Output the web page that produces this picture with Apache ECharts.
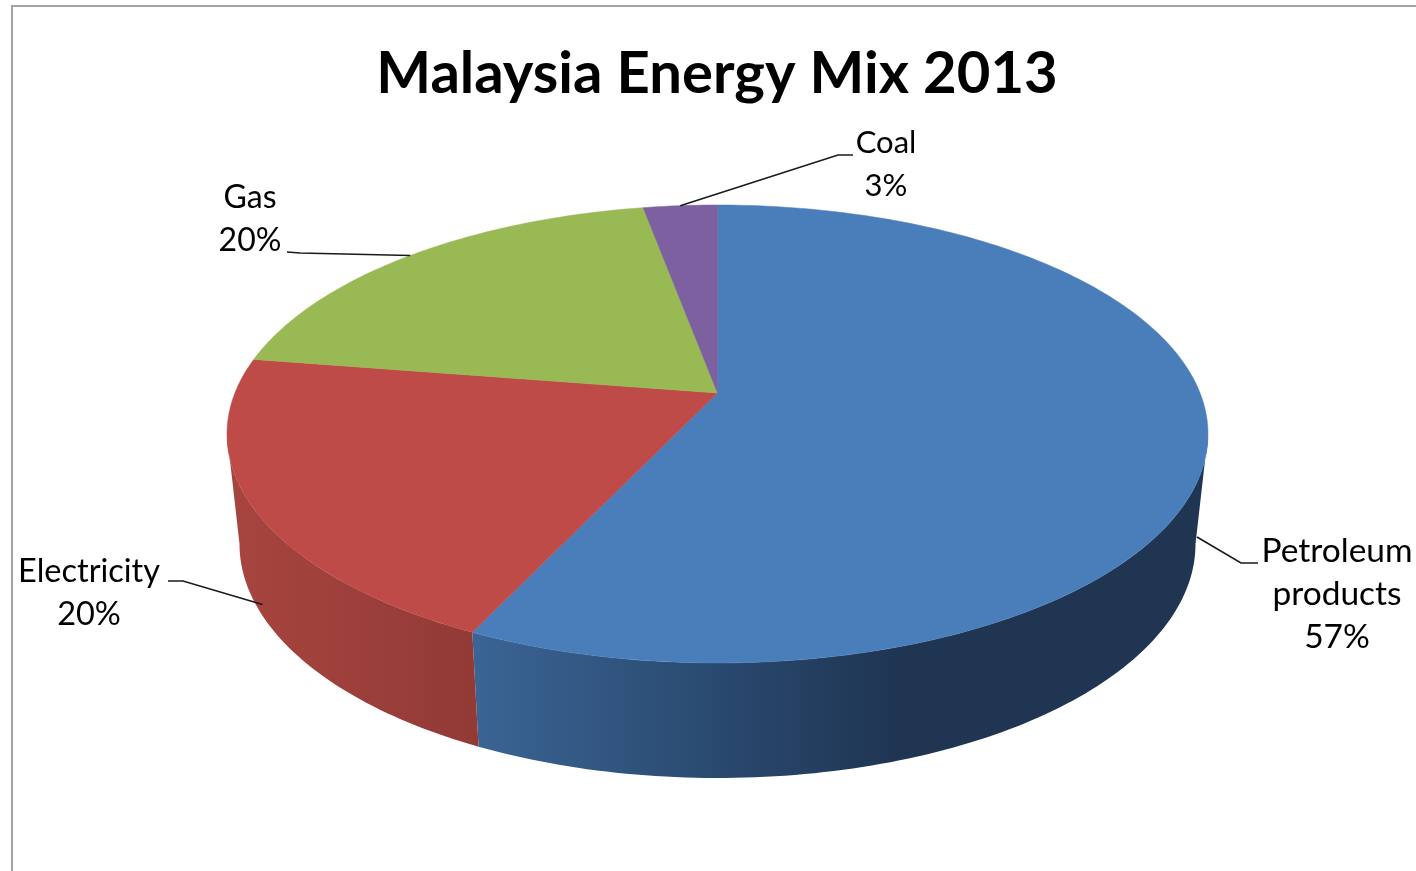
<!DOCTYPE html>
<html>
<head>
<meta charset="utf-8">
<style>html,body{margin:0;padding:0;background:#fff}#c{width:1416px;height:871px}</style>
<script src="https://cdn.jsdelivr.net/npm/echarts@6/dist/echarts.min.js"></script>
</head>
<body>
<div id="c"></div>
<script>
// Data
const titleText = 'Malaysia Energy Mix 2013';
const categories = ['Petroleum\nproducts', 'Electricity', 'Gas', 'Coal'];
const values = [57, 20.49, 19.61, 2.9];

// Styles
const topColors = ['#4a7ebb', '#be4b48', '#98b954', '#7d60a0'];
const wallStops = [
  [[0, '#3a6494'], [0.55, '#2a4a70'], [1, '#1f3552']],
  [[0, '#a6443f'], [1, '#923a36']],
  null, null
];
const wallGradX = [[478, 900], [245, 478], null, null];

// Layout of the tilted disc
const topDisc = {cx: 717.5, cy: 434, rx: 490.5, ry: 229};
const bottomDisc = {cx: 717.5, cy: 544, rx: 478, ry: 234};
const apexShift = -0.179;          // perspective shift of the disc centre
const wallFrom = 100.3, wallTo = 259.7;   // visible wall range, degrees clockwise from top
// label centre, font size, leader elbow, leader end at the label
const labelLayout = [
  {x: 1337, y: 594, size: 33.5, elbow: [1241, 563], end: [1258, 563], wall: 0.85},
  {x: 89, y: 593, size: 32.5, elbow: [183, 581], end: [168, 581], wall: 0.88},
  {x: 250, y: 219, size: 32, elbow: [300, 253], end: [287, 252], wall: 0},
  {x: 886, y: 164, size: 31, elbow: [838, 155], end: [853, 155], wall: 0}
];

function project(disc, deg) {
  const t = deg * Math.PI / 180, u = Math.sin(t), v = -Math.cos(t), a = apexShift;
  const d = 1 + a * v;
  return [disc.cx + disc.rx * u * Math.sqrt(1 - a * a) / d, disc.cy + disc.ry * (v + a) / d];
}
function arc(disc, from, to) {
  const pts = [], n = Math.max(2, Math.ceil(Math.abs(to - from)));
  for (let i = 0; i <= n; i++) pts.push(project(disc, from + (to - from) * i / n));
  return pts;
}
const total = values.reduce((s, v) => s + v, 0);

function renderItem(params, api) {
  const i = params.dataIndex;
  const value = api.value(0);
  let before = 0;
  for (let k = 0; k < i; k++) before += values[k];
  const start = before / total * 360, end = (before + value) / total * 360, mid = (start + end) / 2;
  const children = [];

  // wall
  const w0 = Math.max(start, wallFrom), w1 = Math.min(end, wallTo);
  if (w1 > w0 && wallStops[i]) {
    const poly = arc(topDisc, w0, w1).concat(arc(bottomDisc, w0, w1).reverse());
    const fill = {type: 'linear', x: wallGradX[i][0], y: 0, x2: wallGradX[i][1], y2: 0, global: true,
      colorStops: wallStops[i].map(s => ({offset: s[0], color: s[1]}))};
    children.push({type: 'polygon', shape: {points: poly}, style: {fill: fill}});
  }
  // top face
  const apex = [topDisc.cx, topDisc.cy + topDisc.ry * apexShift];
  children.push({type: 'polygon', shape: {points: [apex].concat(arc(topDisc, start, end))},
    style: {fill: topColors[i], stroke: topColors[i], lineWidth: 0.5}});

  // leader line
  const L = labelLayout[i];
  const pTop = project(topDisc, mid), pBot = project(bottomDisc, mid);
  const anchor = [pTop[0] + (pBot[0] - pTop[0]) * L.wall, pTop[1] + (pBot[1] - pTop[1]) * L.wall];
  children.push({type: 'polyline', shape: {points: [anchor, L.elbow, L.end]},
    style: {fill: null, stroke: '#1a1a1a', lineWidth: 1.6}, z2: 5});

  // label
  children.push({type: 'text', z2: 6, style: {
    text: categories[i] + '\n' + Math.round(value / total * 100) + '%',
    x: L.x, y: L.y, align: 'center', verticalAlign: 'middle',
    fontFamily: 'Lato', fontSize: L.size, lineHeight: 43, fill: '#000'
  }});
  return {type: 'group', children: children};
}

const chart = echarts.init(document.getElementById('c'), null, {renderer: 'canvas', width: 1416, height: 871});
chart.setOption({
  animation: false,
  backgroundColor: '#fff',
  tooltip: {show: false},
  title: {
    text: titleText, left: 712, top: 40, textAlign: 'center',
    textStyle: {fontFamily: 'Lato', fontWeight: 'bold', fontSize: 58, color: '#000'}
  },
  graphic: [{
    type: 'rect', left: 11, top: 5, z: -1,
    shape: {width: 1440, height: 900},
    style: {fill: '#fff', stroke: '#a3a3a3', lineWidth: 2}
  }],
  series: [{
    type: 'custom',
    coordinateSystem: 'none',
    renderItem: renderItem,
    encode: {value: 0},
    data: values.map((v, i) => ({name: categories[i], value: [v]}))
  }]
});
</script>
</body>
</html>
